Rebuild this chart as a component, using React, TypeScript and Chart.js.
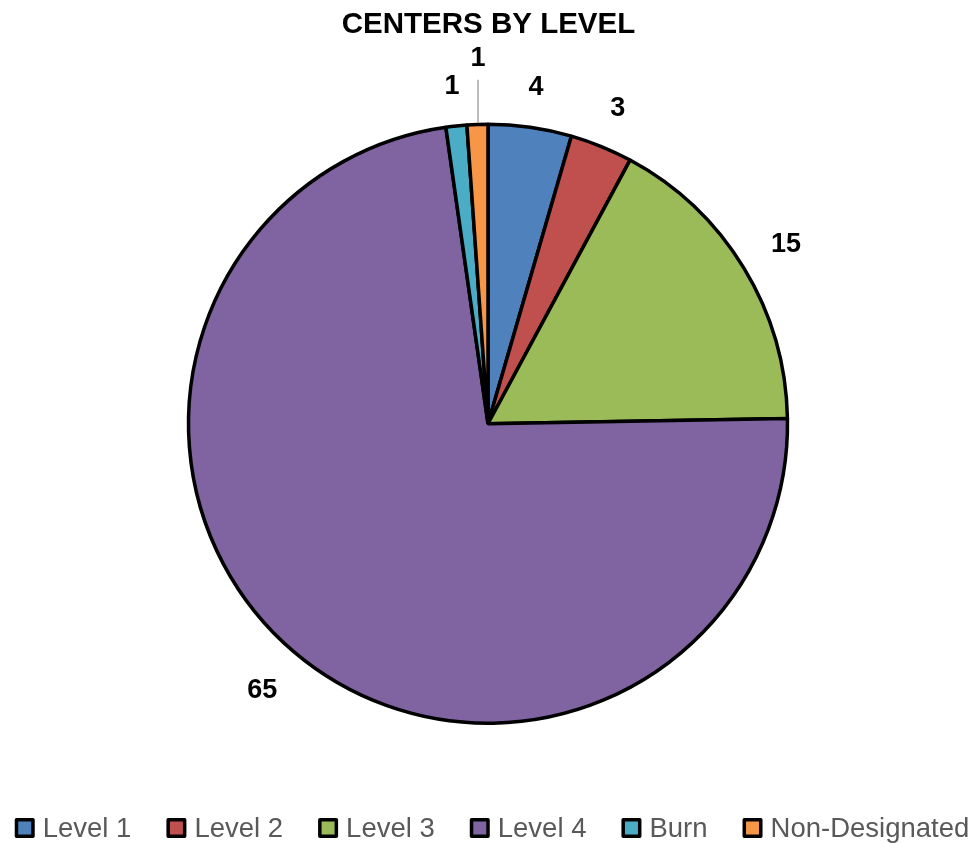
import React, { useEffect, useRef } from "react";
import { Chart, registerables } from "chart.js";

Chart.register(...registerables);

const categories = ["Level 1", "Level 2", "Level 3", "Level 4", "Burn", "Non-Designated"];
const values = [4, 3, 15, 65, 1, 1];
const colors = ["#4F81BD", "#C0504D", "#9BBB59", "#8064A2", "#4BACC6", "#F79646"];
const titleText = "CENTERS BY LEVEL";

const FONT = "'Liberation Sans', Arial, sans-serif";

const outsideLabels = {
  id: "outsideLabels",
  afterDatasetsDraw(chart: any) {
    const ctx = chart.ctx;
    const meta = chart.getDatasetMeta(0);
    const data = chart.data.datasets[0].data;
    ctx.save();
    const fs = 27;
    ctx.font = `bold ${fs}px ${FONT}`;
    ctx.fillStyle = "#000";
    ctx.textAlign = "center";
    ctx.textBaseline = "alphabetic";
    const capH = fs * 0.716;
    const placed: { cx: number; cy: number; x1: number; y1: number; x2: number; y2: number }[] = [];
    meta.data.forEach((arc: any, i: number) => {
      const { x, y, startAngle, endAngle, outerRadius } = arc.getProps(
        ["x", "y", "startAngle", "endAngle", "outerRadius"],
        true
      );
      const mid = (startAngle + endAngle) / 2;
      const text = String(data[i]);
      const w = ctx.measureText(text).width;
      const h = capH;
      const proj = (w / 2) * Math.abs(Math.cos(mid)) + (h / 2) * Math.abs(Math.sin(mid));
      let dist = outerRadius + 1.5 + 30 + proj;
      const base = dist;
      const box = (d: number) => {
        const cx = x + Math.cos(mid) * d;
        const cy = y + Math.sin(mid) * d;
        return { cx, cy, x1: cx - w / 2 - 6, x2: cx + w / 2 + 6, y1: cy - h / 2 - 4, y2: cy + h / 2 + 4 };
      };
      let b = box(dist);
      const hit = (bb: any) =>
        placed.some((p) => bb.x1 < p.x2 && bb.x2 > p.x1 && bb.y1 < p.y2 && bb.y2 > p.y1);
      let guard = 0;
      while (hit(b) && guard < 200) {
        dist += 1;
        b = box(dist);
        guard++;
      }
      if (dist > base) {
        const ey = y + Math.sin(mid) * (outerRadius + 1.5);
        ctx.strokeStyle = "#A6A6A6";
        ctx.lineWidth = 1.5;
        ctx.beginPath();
        ctx.moveTo(b.cx + 3, b.cy + h / 2 + 14);
        ctx.lineTo(b.cx + 3, ey);
        ctx.stroke();
      }
      placed.push(b);
      ctx.fillText(text, b.cx + (dist > base ? 3 : 0), b.cy + h / 2);
    });
    ctx.restore();
  },
};

const titleAndLegend = {
  id: "titleAndLegend",
  afterDraw(chart: any) {
    const ctx = chart.ctx;
    const W = chart.width;
    ctx.save();
    // title
    ctx.font = `bold 29.5px ${FONT}`;
    ctx.fillStyle = "#000";
    ctx.textAlign = "center";
    ctx.textBaseline = "alphabetic";
    ctx.fillText(titleText, W / 2 + 0.5, 32.5);

    // legend
    ctx.font = `27.5px ${FONT}`;
    ctx.textAlign = "left";
    const box = 20;
    const gapBoxText = 8;
    const gapItems = 35;
    const widths = categories.map((c) => ctx.measureText(c).width);
    const total =
      widths.reduce((s, w) => s + box + gapBoxText + w, 0) + gapItems * (categories.length - 1);
    let xPos = (W - total) / 2 + 4;
    const baseline = 837;
    const boxTop = 818;
    categories.forEach((c, i) => {
      ctx.fillStyle = colors[i];
      ctx.fillRect(xPos + 1.5, boxTop + 1.5, box - 3, box - 3);
      ctx.strokeStyle = "#000";
      ctx.lineWidth = 3.5;
      ctx.lineJoin = "round";
      ctx.strokeRect(xPos + 1.75, boxTop + 1.75, box - 3.5, box - 3.5);
      ctx.fillStyle = "#595959";
      ctx.fillText(c, xPos + box + gapBoxText, baseline);
      xPos += box + gapBoxText + widths[i] + gapItems;
    });
    ctx.restore();
  },
};

export default function App() {
  const ref = useRef<HTMLCanvasElement>(null);
  useEffect(() => {
    document.body.style.margin = "0";
    const chart = new Chart(ref.current!, {
      type: "pie",
      data: {
        labels: categories,
        datasets: [
          {
            data: values,
            backgroundColor: colors,
            borderColor: "#000000",
            borderWidth: 3.5,
            hoverOffset: 0,
          },
        ],
      },
      options: {
        responsive: false,
        animation: false,
        layout: { padding: { top: 122.5, bottom: 118, left: 0, right: 0 } },
        plugins: {
          title: { display: false },
          legend: { display: false },
          tooltip: { enabled: false },
        },
      },
      plugins: [outsideLabels, titleAndLegend],
    });
    return () => chart.destroy();
  }, []);
  return <canvas ref={ref} width={976} height={843} style={{ display: "block" }} />;
}
